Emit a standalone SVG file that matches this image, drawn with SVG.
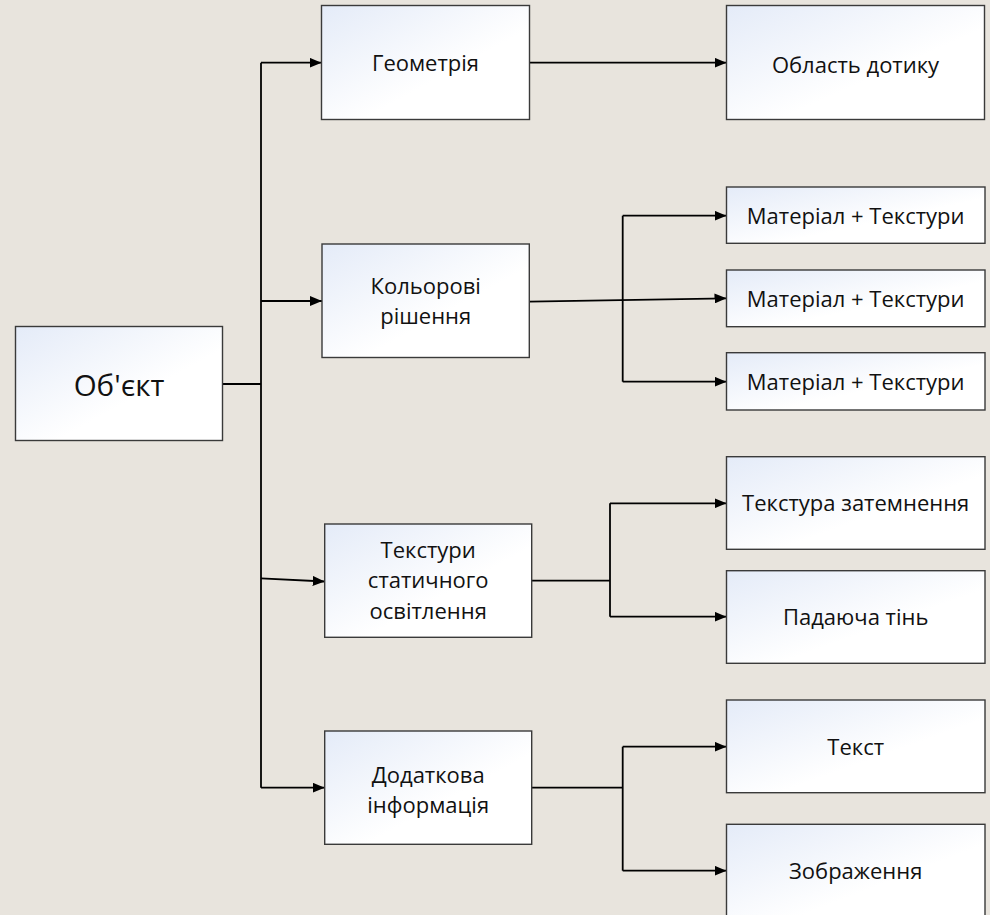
<svg xmlns="http://www.w3.org/2000/svg" width="990" height="915" viewBox="0 0 990 915">
<defs>
<linearGradient id="g" x1="0" y1="0" x2="1" y2="1">
<stop offset="0" stop-color="#e4ebf8"/>
<stop offset="0.6" stop-color="#ffffff"/>
<stop offset="1" stop-color="#ffffff"/>
</linearGradient>
<marker id="a" markerUnits="userSpaceOnUse" markerWidth="12" markerHeight="10" refX="12" refY="5" orient="auto">
<path d="M0,0 L12,5 L0,10 Z" fill="#000"/>
</marker>
<style>
.bx{fill:url(#g);stroke:#3a3a3a;stroke-width:1.4}
.t{font-family:"Open Sans","Liberation Sans",sans-serif;font-size:22px;fill:#111;text-anchor:middle}
.big{font-size:29.5px}
.c{fill:none;stroke:#000;stroke-width:1.8}
.ar{marker-end:url(#a)}
</style>
</defs>
<rect width="990" height="915" fill="#e8e4dd"/>
<g id="connectors">
<path class="c" d="M223,384 H261"/>
<path class="c" d="M261,62.7 V787.7"/>
<path class="c ar" d="M261,62.7 H321.5"/>
<path class="c ar" d="M261,301 H322"/>
<path class="c ar" d="M261,578.3 L324.7,581.5"/>
<path class="c ar" d="M261,787.7 H324.7"/>
<path class="c ar" d="M529.3,62.7 H726.5"/>
<path class="c ar" d="M529.3,301.7 L726.5,298.3"/>
<path class="c" d="M622.7,215.7 V381.7"/>
<path class="c ar" d="M622.7,215.7 H726.5"/>
<path class="c ar" d="M622.7,381.7 H726.5"/>
<path class="c" d="M531.7,580.7 H610"/>
<path class="c" d="M610,503.3 V616.7"/>
<path class="c ar" d="M610,503.3 H726.5"/>
<path class="c ar" d="M610,616.7 H726.5"/>
<path class="c" d="M531.7,787.7 H622.7"/>
<path class="c" d="M622.7,746.7 V870.7"/>
<path class="c ar" d="M622.7,746.7 H726.5"/>
<path class="c ar" d="M622.7,870.7 H726.5"/>
</g>
<g id="obj"><rect class="bx" x="15.5" y="326.5" width="207" height="114"/><text class="t big" x="119" y="396">Об'єкт</text></g>
<g id="geom"><rect class="bx" x="321.5" y="5.5" width="208" height="114"/><text class="t" x="425.5" y="71">Геометрія</text></g>
<g id="touch"><rect class="bx" x="726.5" y="5.5" width="258" height="114"/><text class="t" x="855.5" y="73">Область дотику</text></g>
<g id="colors"><rect class="bx" x="322" y="244" width="207.3" height="113.5"/><text class="t" x="425.7" y="294">Кольорові</text><text class="t" x="425.7" y="324">рішення</text></g>
<g id="mat1"><rect class="bx" x="726.5" y="187" width="258.5" height="56.3"/><text class="t" x="855.7" y="224">Матеріал + Текстури</text></g>
<g id="mat2"><rect class="bx" x="726.5" y="270" width="258.5" height="56.7"/><text class="t" x="855.7" y="307">Матеріал + Текстури</text></g>
<g id="mat3"><rect class="bx" x="726.5" y="352.7" width="258.5" height="57.3"/><text class="t" x="855.7" y="390">Матеріал + Текстури</text></g>
<g id="static"><rect class="bx" x="324.7" y="524" width="207" height="113.3"/><text class="t" x="428.2" y="558">Текстури</text><text class="t" x="428.2" y="588">статичного</text><text class="t" x="428.2" y="619">освітлення</text></g>
<g id="occl"><rect class="bx" x="726.5" y="456.7" width="258.5" height="92.6"/><text class="t" x="855.7" y="511">Текстура затемнення</text></g>
<g id="shadow"><rect class="bx" x="726.5" y="570.7" width="258.5" height="92.6"/><text class="t" x="855.7" y="625">Падаюча тінь</text></g>
<g id="info"><rect class="bx" x="324.7" y="731" width="207" height="113.3"/><text class="t" x="428.2" y="783">Додаткова</text><text class="t" x="428.2" y="813">інформація</text></g>
<g id="text"><rect class="bx" x="726.5" y="700" width="258.5" height="92.7"/><text class="t" x="855.7" y="755">Текст</text></g>
<g id="image"><rect class="bx" x="726.5" y="824.3" width="258.5" height="100"/><text class="t" x="855.7" y="879">Зображення</text></g>
</svg>
